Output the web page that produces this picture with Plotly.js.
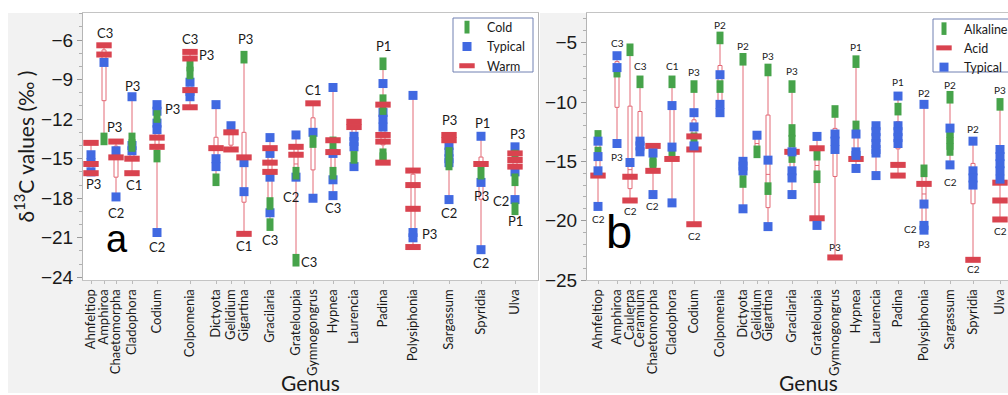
<!DOCTYPE html>
<html><head><meta charset="utf-8">
<script src="https://cdn.plot.ly/plotly-3.0.1.min.js"></script>
<style>html,body{margin:0;padding:0;overflow:hidden;background:#fff}</style>
</head><body><div id="chart" style="width:1030px;height:395px"></div>
<script>
// ---------------- DATA: panel a (temperature) ----------------
const genusA = ['Ahnfeltiop','Amphiroa','Chaetomorpha','Cladophora','Codium','Colpomenia','Dictyota','Gelidium','Gigartina','Gracilaria','Grateloupia','Gymnogongrus','Hypnea','Laurencia','Padina','Polysiphonia','Sargassum','Spyridia','Ulva'];
const coldA = [[],[-13.5],[],[-13.5,-14.0],[-11.8,-14.8],[-7.9,-8.5],[-16.6],[],[-7.3],[-18.4,-20.0],[-16.1,-22.7],[-13.7],[-13.8,-16.1],[-14.9],[-7.8,-10.6,-11.2,-14.7,-15.0],[],[-14.6,-15.4],[-16.1],[-14.8,-16.6,-18.8]];
const typicalA = [[-14.7,-15.3,-16.0],[-7.7],[-14.4,-17.9],[-10.3,-14.0,-14.4],[-10.9,-11.4,-12.3,-12.8,-20.6],[-9.2,-9.9,-10.3],[-10.9,-15.0,-15.6],[-12.5],[-15.3,-17.5],[-13.4,-14.6,-16.4,-19.1],[-13.2,-16.4],[-13.0,-18.0],[-9.6,-14.6,-16.6,-17.8],[-13.3,-13.7,-14.1,-15.6],[-9.3,-11.5,-12.0,-12.6],[-10.2,-20.6,-21.0],[-14.0,-14.5,-15.0,-15.3,-18.1],[-13.3,-16.8,-21.9],[-14.1,-16.0,-18.1]];
const warmA = [[-13.8,-15.4,-16.1],[-6.4,-7.1],[-13.7,-14.9],[-15.0,-16.1],[-13.4,-14.1],[-6.9,-7.4,-9.8,-11.1],[-14.2],[-13.0,-14.3],[-14.9,-20.7],[-14.2,-15.3,-16.0],[-14.1,-14.7],[-10.8],[-13.6,-14.5],[-12.2,-12.6],[-10.9,-13.2,-13.7,-15.3],[-15.9,-17.0,-18.8,-21.7],[-13.2,-13.6],[-15.4],[-14.6,-15.1,-15.6]];
const labelGenusA = ['Ahnfeltiop','Amphiroa','Amphiroa','Chaetomorpha','Cladophora','Cladophora','Codium','Codium','Colpomenia','Colpomenia','Gigartina','Gigartina','Gracilaria','Grateloupia','Grateloupia','Gymnogongrus','Hypnea','Padina','Polysiphonia','Sargassum','Sargassum','Spyridia','Spyridia','Spyridia','Ulva','Ulva','Ulva'];
const labelValueA = [-16.9,-5.5,-12.6,-19.1,-9.5,-17.0,-11.25,-21.7,-5.9,-7.1,-5.9,-21.6,-21.2,-17.9,-22.8,-9.8,-18.75,-6.45,-20.7,-12.1,-19.1,-12.3,-17.85,-22.9,-13.1,-18.2,-19.7];
const labelTextA = ['P3','C3','P3','C2','P3','C1','P3','C2','C3','P3','P3','C1','C3','C2','C3','C1','C3','P1','P3','P3','C2','P1','P3','C2','P3','C2','P1'];

// ---------------- DATA: panel b (pH) ----------------
const genusB = ['Ahnfeltiop','Amphiroa','Caulerpa','Ceramium','Chaetomorpha','Cladophora','Codium','Colpomenia','Dictyota','Gelidium','Gigartina','Gracilaria','Grateloupia','Gymnogongrus','Hypnea','Laurencia','Padina','Polysiphonia','Sargassum','Spyridia','Ulva'];
const alkalineB = [[-12.9,-14.3],[-7.4],[-5.6],[-8.3],[-14.9,-15.3],[-8.3,-14.4],[-8.7,-13.1],[-4.6,-8.7],[-6.4,-16.7],[-14.2],[-7.3,-17.3],[-8.7,-12.4,-13.3,-14.6],[-14.4,-16.3],[-10.8],[-6.6,-12.1],[],[-10.6,-12.6],[-15.8],[-9.6,-12.5,-13.0,-13.5,-14.0],[],[-10.2,-14.9]];
const acidB = [[-16.2],[],[-16.3,-18.3],[],[-13.7,-15.8],[-14.8],[-12.9,-14.0,-20.3],[],[],[],[],[-14.2],[-13.9,-19.8],[-23.1],[-14.8],[],[-15.3,-16.2],[-16.9],[],[-23.3],[-16.8,-18.3,-19.9]];
const typicalB = [[-13.3,-14.6,-15.8,-18.8],[-6.1,-7.1,-13.5],[-15.1],[-13.3,-13.7,-14.2],[-14.3,-17.8],[-10.3,-13.8,-18.5],[-10.9,-12.1,-13.7],[-7.7,-10.2,-10.9],[-15.0,-15.4,-15.8,-19.0],[-12.8],[-14.9,-20.5],[-14.2,-15.8,-16.4,-17.8],[-12.9,-20.4],[-12.7,-13.3,-14.0],[-12.7,-14.2,-14.5,-15.6],[-12.0,-12.5,-13.0,-13.5,-14.0,-14.3,-16.2],[-9.5,-12.0,-12.5,-13.0,-13.5],[-10.2,-18.6,-20.4,-20.8],[-12.2,-15.3],[-13.3,-15.8,-16.4,-17.0],[-14.0,-14.6,-15.2,-15.8,-16.5]];
const labelGenusB = ['Ahnfeltiop','Amphiroa','Amphiroa','Caulerpa','Ceramium','Chaetomorpha','Cladophora','Codium','Codium','Colpomenia','Dictyota','Gigartina','Gracilaria','Gymnogongrus','Hypnea','Padina','Polysiphonia','Polysiphonia','Polysiphonia','Sargassum','Sargassum','Spyridia','Spyridia','Ulva','Ulva'];
const labelValueB = [-19.9,-5.0,-14.6,-19.2,-7.0,-18.8,-7.0,-7.5,-21.3,-3.5,-5.3,-6.1,-7.4,-22.25,-5.4,-8.3,-9.25,-20.7,-22.0,-8.6,-16.7,-12.3,-24.1,-9.0,-20.9];
const labelTextB = ['C2','C3','P3','C2','C3','C2','C1','P3','C2','P2','P2','P3','P3','P3','P1','P1','P2','C2','P3','P2','C2','P2','C2','P3','C2'];

// ---------------- LAYOUT (category slot positions on the x axes, label nudges) ----------------
const W = 1030, H = 395, TOP = 13, BOT = 280;
const slotA = [91,104,116,132,157,190,216,231,244,270,296,313,333,354,383,413,449,481,515];
const slotB = [598,617,630,640,653,672,694,720,743,757,768,792,817,835,856,876,898,924,950,973,1000];
const labelShiftA = [2,1,10,0,0,2,15,0,0,16,1,0,0,-5,13,0,0,0,16,0,0,1,0,0,2,-14,0];
const labelShiftB = [0,0,0,0,0,-1,0,0,0,0,0,0,0,0,0,0,0,-14,0,0,0,0,0,0,0];

const RED = '#d9434f', BLUE = '#4169e1', GREEN = '#46a34a', BOXC = '#e36a77';
const styWarm = {symbol:'line-ew', size:11, color:RED, line:{color:RED, width:6}};
const styCold = {symbol:'line-ns', size:9, color:GREEN, line:{color:GREEN, width:7}};
const styTyp = {symbol:'square', size:9, color:BLUE, line:{width:0}};

function flat(groups, slots){
  const x=[], y=[];
  groups.forEach((g,i)=>g.forEach(v=>{x.push(slots[i]); y.push(v);}));
  return {x, y};
}
function pts(groups, slots, xa, ya, name, marker, legend, rank){
  const d = flat(groups, slots);
  return {type:'scatter', mode:'markers', x:d.x, y:d.y, xaxis:xa, yaxis:ya, name, marker,
          legend, legendrank:rank, cliponaxis:false, hovertemplate:'%{y}<extra>'+name+'</extra>'};
}
function boxes(groupsList, slots, xa, ya){
  const x=[], y=[];
  groupsList.forEach(gs=>{const d=flat(gs, slots); x.push(...d.x); y.push(...d.y);});
  return {type:'box', x, y, xaxis:xa, yaxis:ya, width:4, boxpoints:false, whiskerwidth:0,
          fillcolor:'rgba(255,255,255,0)', line:{color:BOXC, width:1}, showlegend:false, hoverinfo:'skip'};
}

const traces = [
  boxes([coldA, typicalA, warmA], slotA, 'x', 'y'),
  boxes([alkalineB, acidB, typicalB], slotB, 'x2', 'y2'),
  pts(typicalA, slotA, 'x', 'y', 'Typical', styTyp, 'legend', 2),
  pts(coldA, slotA, 'x', 'y', 'Cold', styCold, 'legend', 1),
  pts(warmA, slotA, 'x', 'y', 'Warm', styWarm, 'legend', 3),
  pts(alkalineB, slotB, 'x2', 'y2', 'Alkaline', styCold, 'legend2', 1),
  pts(acidB, slotB, 'x2', 'y2', 'Acid', styWarm, 'legend2', 2),
  pts(typicalB, slotB, 'x2', 'y2', 'Typical', styTyp, 'legend2', 3)
];

const catFont = {family:'Lato, "Open Sans", sans-serif', size:13, color:'#1a1a1a'};
const numFont = {family:'"Liberation Sans", Arial, sans-serif', size:19, color:'#1a1a1a'};
const titleFont = {family:'Lato, "Open Sans", sans-serif', size:21, color:'#1a1a1a'};

function xAxis(dom, rng, slots, names){
  return {domain:dom, range:rng, tickvals:slots, ticktext:names, tickangle:-90, tickfont:catFont,
          ticks:'outside', ticklen:3, tickcolor:'#bbbbbb', showgrid:false, zeroline:false,
          showline:true, mirror:true, linecolor:'#c4c4c4', linewidth:1, automargin:false,
          title:{text:'Genus', font:titleFont, standoff:2}};
}
function yAxis(anchor, rng, tv, minorDt){
  return {anchor, range:rng, tickvals:tv, tickfont:numFont, ticks:'outside', ticklen:5,
          tickcolor:'#9a9a9a', showgrid:false, zeroline:false, showline:true, mirror:true,
          linecolor:'#b5b5b5', linewidth:1, automargin:false,
          minor:{ticks:'outside', ticklen:3, dtick:minorDt, tickcolor:'#b0b0b0', showgrid:false}};
}
const ya = yAxis('x', [-24.2, -3.95], [-24,-21,-18,-15,-12,-9,-6], 1);
ya.title = {text:'δ<sup>13</sup>C values (‰ )', font:titleFont, standoff:0};
const yb = yAxis('x2', [-25, -2.5], [-25,-20,-15,-10,-5], 1);

const px = v => v / W;
const py = p => (BOT - p) / (BOT - TOP);

function labels(gen, vals, txt, shift, genus, slots, xa, ya2, size){
  return gen.map((g,i)=>({x:slots[genus.indexOf(g)], y:vals[i], xref:xa, yref:ya2, text:txt[i],
    showarrow:false, xshift:shift[i], font:{family:'Lato, "Open Sans", sans-serif', size, color:'#1a1a1a'}}));
}

const greyRect = (x0,x1,y0,y1)=>({type:'rect', xref:'paper', yref:'paper', x0:px(x0), x1:px(x1), y0:py(y1), y1:py(y0),
  fillcolor:'#f2f2f2', line:{width:0}, layer:'below'});
const legendFrame = (x0,x1,y0,y1)=>({type:'rect', xref:'paper', yref:'paper', x0:px(x0), x1:px(x1), y0:py(y1), y1:py(y0),
  fillcolor:'#ffffff', line:{color:'#7080b2', width:1}, layer:'above'});
const legFont = {family:'Lato, sans-serif', size:12.5, color:'#1a1a1a'};

const layout = {
  width:W, height:H, margin:{l:0, r:0, t:TOP, b:H-BOT},
  paper_bgcolor:'#ffffff', plot_bgcolor:'#ffffff',
  xaxis: xAxis([px(83), px(538)], [83, 538], slotA, genusA),
  yaxis: ya,
  xaxis2: Object.assign(xAxis([px(587), 1], [587, 1030], slotB, genusB), {anchor:'y2'}),
  yaxis2: yb,
  legend:{x:px(447), y:py(12.5), xanchor:'left', yanchor:'top', bgcolor:'rgba(0,0,0,0)', borderwidth:0,
          font:legFont, itemwidth:30, tracegroupgap:0},
  legend2:{x:px(924), y:py(14), xanchor:'left', yanchor:'top', bgcolor:'rgba(0,0,0,0)', borderwidth:0,
          font:legFont, itemwidth:30, tracegroupgap:0},
  shapes:[greyRect(8,83,13,393), greyRect(8,538,280,393), greyRect(540,587,13,393), greyRect(540,1030,280,393),
          legendFrame(453,533,18,72), legendFrame(933,1040,19,72)],
  annotations: [
    ...labels(labelGenusA, labelValueA, labelTextA, labelShiftA, genusA, slotA, 'x', 'y', 13),
    ...labels(labelGenusB, labelValueB, labelTextB, labelShiftB, genusB, slotB, 'x2', 'y2', 10),
    {xref:'paper', yref:'paper', x:px(104), y:py(262), text:'a', showarrow:false,
     font:{family:'"Liberation Sans", Arial, sans-serif', size:38, color:'#000'}},
    {xref:'paper', yref:'paper', x:px(619), y:py(260), text:'b', showarrow:false,
     font:{family:'"Liberation Sans", Arial, sans-serif', size:47, color:'#000'}}
  ],
  showlegend:true
};

Plotly.newPlot('chart', traces, layout, {displayModeBar:false});
</script></body></html>
